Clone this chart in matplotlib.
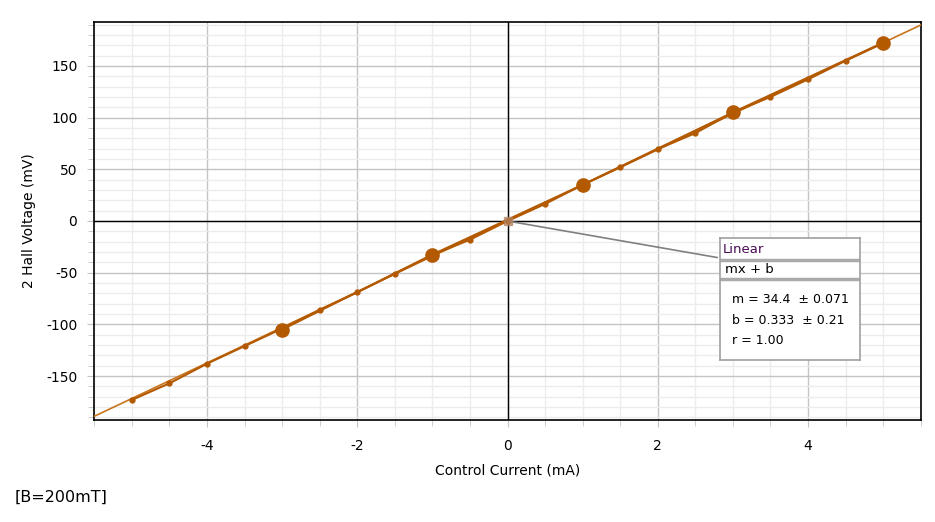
import matplotlib
matplotlib.use("Agg")
import matplotlib.pyplot as plt
from matplotlib.ticker import MultipleLocator

ORANGE, FIT, GRID, MINOR = "#b35900", "#c8741c", "#c4c4c4", "#ececec"
plt.rcParams.update({"font.size": 10, "font.family": "DejaVu Sans",
                     "axes.unicode_minus": False})

# run 1: every 0.5 mA (small markers)
i_small = [-5, -4.5, -4, -3.5, -3, -2.5, -2, -1.5, -1, -0.5, 0,
           0.5, 1, 1.5, 2, 2.5, 3, 3.5, 4, 4.5, 5]
v_small = [-173, -157, -138, -121, -104, -86, -69, -51, -33, -18, 0,
           16.5, 35, 52, 69.5, 85, 105, 120, 137, 155, 172]
# run 2: odd currents (large markers)
i_big = [-3, -1, 1, 3, 5]
v_big = [-105, -32.5, 35, 105, 172.5]
# linear fit
m_fit, b_fit = 34.4, 0.333

fig = plt.figure(figsize=(9.35, 5.22), dpi=100)
ax = fig.add_axes([94/935, 1-420/522, 827/935, 398/522])
xlim = (-5.505, 5.505)
ax.set_xlim(*xlim)
ax.set_ylim(-192.5, 192.5)

ax.xaxis.set_major_locator(MultipleLocator(2))
ax.xaxis.set_minor_locator(MultipleLocator(0.5))
ax.yaxis.set_major_locator(MultipleLocator(50))
ax.yaxis.set_minor_locator(MultipleLocator(10))
ax.grid(which="minor", color=MINOR, lw=1, zorder=0)
ax.grid(which="major", color=GRID, lw=1, zorder=0)
ax.tick_params(which="both", color=GRID, direction="out")
ax.tick_params(which="major", length=5)
ax.tick_params(which="minor", length=4)
ax.tick_params(axis="x", pad=9)
ax.tick_params(axis="y", pad=7)
ax.axhline(0, color="black", lw=1, zorder=2.5)
ax.axvline(0, color="black", lw=1, zorder=2.5)
for s in ax.spines.values():
    s.set_color("black")
    s.set_linewidth(1.2)

ax.plot(xlim, [m_fit * x + b_fit for x in xlim], color=FIT, lw=1.2, zorder=3)
ax.plot(i_small, v_small, color=ORANGE, lw=1.5, marker="o", ms=3.5, zorder=3)
ax.plot(i_big, v_big, color=ORANGE, lw=1.5, marker="o", ms=9.5, zorder=4)
ax.plot([0], [0], marker="s", ms=6, color="#b08060", alpha=0.7, zorder=5)

ax.set_xlabel("Control Current (mA)", labelpad=7)
ax.set_ylabel("2 Hall Voltage (mV)", labelpad=7)

# fit annotation box (pixel coordinates)
ax.annotate("", xy=(0, 0), xytext=(720, 264), textcoords="figure pixels",
            arrowprops=dict(arrowstyle="-", color="#808080", lw=1.2))
bx = fig.add_axes([720/935, 1-360/522, 140/935, 122/522])
bx.set_xlim(0, 140); bx.set_ylim(122, 0)
bx.set_xticks([]); bx.set_yticks([])
for s in bx.spines.values():
    s.set_color("#a0a0a0")
    s.set_linewidth(1.2)
bx.axhline(22, color="#aaaaaa", lw=2.5)
bx.axhline(41, color="#aaaaaa", lw=2.5)
bx.text(3, 11, "Linear", color="#4b0a55", va="center", fontsize=9.5)
bx.text(5, 31.5, "mx + b", va="center", fontsize=9.5)
bx.text(12, 61, f"m = {m_fit}  \u00b1 0.071", va="center", fontsize=9)
bx.text(12, 82, f"b = {b_fit}  \u00b1 0.21", va="center", fontsize=9)
bx.text(12, 103, "r = 1.00", va="center", fontsize=9)

fig.text(15/935, 1-497/522, "[B=200mT]", fontsize=11.5, va="center")
fig.savefig("out.png", dpi=100)
